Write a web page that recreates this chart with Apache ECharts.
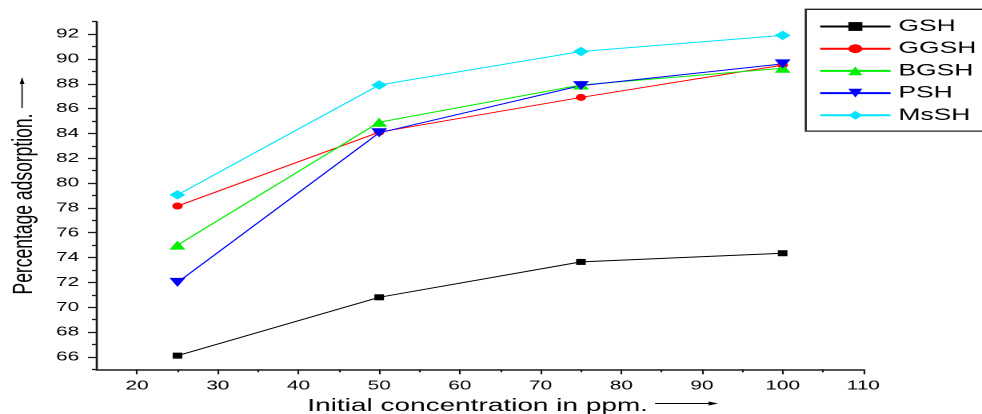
<!DOCTYPE html>
<html><head><meta charset="utf-8">
<script src="https://cdn.jsdelivr.net/npm/echarts@6/dist/echarts.min.js"></script>
<style>
html,body{margin:0;padding:0;background:#fff;overflow:hidden}
#wrap{width:982px;height:414px;overflow:hidden;position:relative;background:#fff}
#chart{width:614px;height:414px;transform:scaleX(1.599349);transform-origin:0 0}
</style></head><body><div id="wrap"><div id="chart"></div></div>
<script>
// ---- data ----
const concentrations = [25, 50, 75, 100];
const seriesNames = ['GSH', 'GGSH', 'BGSH', 'PSH', 'MsSH'];
const GSH  = [66.1, 70.8, 73.65, 74.35];
const GGSH = [78.15, 84.1, 86.9, 89.5];
const BGSH = [75.0, 84.9, 87.9, 89.25];
const PSH  = [72.0, 84.05, 87.85, 89.6];
const MsSH = [79.05, 87.9, 90.6, 91.9];
const xMajorTicks = [20, 30, 40, 50, 60, 70, 80, 90, 100, 110];
const xMinorTicks = [25, 35, 45, 55, 65, 75, 85, 95, 105];
const yMajorTicks = [66, 68, 70, 72, 74, 76, 78, 80, 82, 84, 86, 88, 90, 92];
const yMinorTicks = [65, 67, 69, 71, 73, 75, 77, 79, 81, 83, 85, 87, 89, 91, 93];
const xTitle = 'Initial concentration in ppm.';
const yTitle = 'Percentage adsorption.';

const FONT = "'Liberation Sans', Arial, Helvetica, sans-serif";
const AX = '#1a1a1a';
const values = [GSH, GGSH, BGSH, PSH, MsSH];
const colors = ['#000000', '#ff0000', '#00ee00', '#0000ff', '#00e5ff'];
const symbols = ['rect', 'circle', 'triangle', 'triangle', 'diamond'];
const symbolSizes = [[6, 6], [6.5, 7], [10, 9], [10, 9], [10, 9.5]];
const rotates = [0, 0, 0, 180, 0];

const chart = echarts.init(document.getElementById('chart'), null, {renderer: 'canvas', devicePixelRatio: 2});

const series = seriesNames.map((n, i) => ({
  name: n, type: 'line',
  data: concentrations.map((c, j) => [c, values[i][j]]),
  symbol: symbols[i], symbolSize: symbolSizes[i], symbolRotate: rotates[i],
  showAllSymbol: true,
  itemStyle: {color: colors[i]},
  lineStyle: {color: colors[i], width: 1},
  emphasis: {disabled: true},
  animation: false
}));

chart.setOption({
  backgroundColor: '#ffffff',
  animation: false,
  grid: {left: 60.5, right: 74.2, top: 21.7, bottom: 44.7, containLabel: false, outerBoundsMode: 'none'},
  legend: {
    orient: 'vertical', left: 503.8, top: 9.3,
    data: seriesNames,
    itemWidth: 44, itemHeight: 11, itemGap: 5.2,
    padding: [8.7, 40, 7.3, 8],
    borderColor: '#222', borderWidth: 1.3,
    textStyle: {fontFamily: FONT, fontSize: 16.5, lineHeight: 16, color: '#000'},
    selectedMode: false
  },
  xAxis: [{
    type: 'value', min: 15, max: 110,
    name: xTitle, nameLocation: 'middle', nameGap: 23.5,
    nameTextStyle: {fontFamily: FONT, fontSize: 17.5, color: '#000', padding: [0, 3, 0, 0]},
    axisLine: {show: true, onZero: false, lineStyle: {color: AX, width: 1.6}},
    axisTick: {show: true, length: 5, customValues: xMajorTicks, lineStyle: {color: AX, width: 1.1}},
    axisLabel: {show: true, margin: 10, customValues: xMajorTicks, fontFamily: FONT, fontSize: 13, color: '#000'},
    splitLine: {show: false}
  }, {
    type: 'value', min: 15, max: 110, position: 'bottom',
    axisLine: {show: false, onZero: false},
    axisTick: {show: true, length: 3, customValues: xMinorTicks, lineStyle: {color: AX, width: 1.1}},
    axisLabel: {show: false},
    splitLine: {show: false}
  }],
  yAxis: [{
    type: 'value', min: 65, max: 93, position: 'left',
    name: yTitle, nameLocation: 'middle', nameGap: 36.5, nameRotate: 90,
    nameTextStyle: {fontFamily: FONT, fontSize: 17.5, color: '#000', padding: [0, 17, 0, 0]},
    axisLine: {show: true, onZero: false, lineStyle: {color: AX, width: 1.3}},
    axisTick: {show: true, length: 5.5, customValues: yMajorTicks, lineStyle: {color: AX, width: 1.3}},
    axisLabel: {show: true, margin: 11, customValues: yMajorTicks, fontFamily: FONT, fontSize: 13, color: '#000'},
    splitLine: {show: false}
  }, {
    type: 'value', min: 65, max: 93, position: 'left', offset: 0,
    axisLine: {show: false, onZero: false},
    axisTick: {show: true, length: 3, customValues: yMinorTicks, lineStyle: {color: AX, width: 1.3}},
    axisLabel: {show: false},
    splitLine: {show: false}
  }],
  graphic: [
    // arrow beside y title
    {type: 'line', shape: {x1: 13.8, y1: 108, x2: 13.8, y2: 82}, style: {stroke: '#000', lineWidth: 0.8}},
    {type: 'polygon', shape: {points: [[12.3, 84], [15.3, 84], [13.8, 77]]}, style: {fill: '#000'}},
    // arrow after x title
    {type: 'line', shape: {x1: 409.6, y1: 403.5, x2: 445, y2: 403.5}, style: {stroke: '#000', lineWidth: 1}},
    {type: 'polygon', shape: {points: [[443, 401.5], [443, 405.5], [449, 403.5]]}, style: {fill: '#000'}}
  ],
  series: series
});
</script></body></html>
